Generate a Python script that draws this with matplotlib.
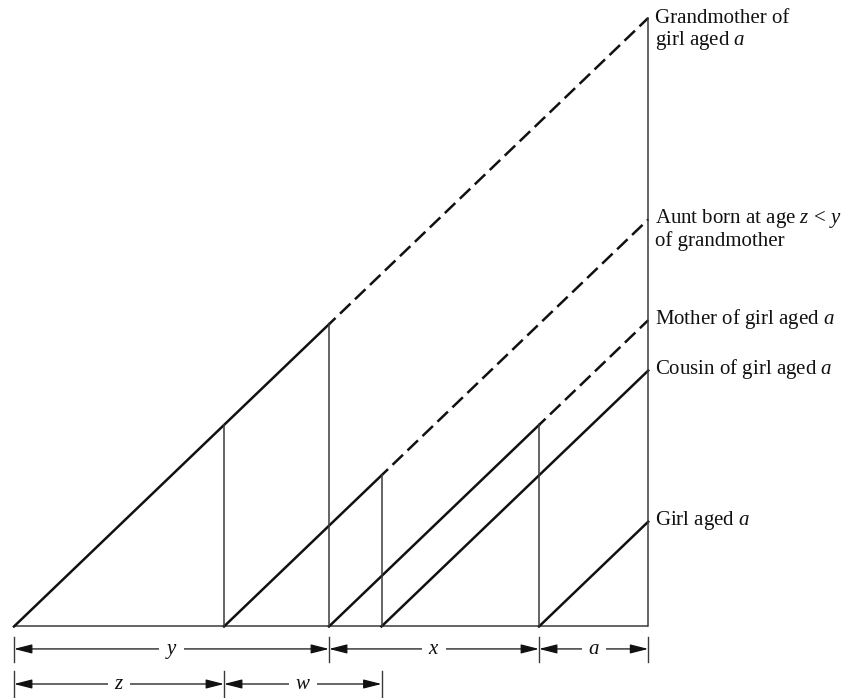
import matplotlib.pyplot as plt

# ages (years)
age_y = 30.0    # grandmother's age when mother was born
age_z = 20.0    # grandmother's age when aunt was born
age_w = 15.0    # aunt's age when cousin was born
age_x = 20.0    # mother's age when girl was born
age_a = 10.4    # girl's present age

T = age_y + age_x + age_a   # present time, counted from grandmother's birth

# people: label, birth time, time after which the line is dashed (None = solid)
names = ['Grandmother of\ngirl aged $\\mathit{a}$',
         'Aunt born at age $\\mathit{z}$ < $\\mathit{y}$\nof grandmother',
         'Mother of girl aged $\\mathit{a}$',
         'Cousin of girl aged $\\mathit{a}$',
         'Girl aged $\\mathit{a}$']
births = [0.0, age_z, age_y, age_z + age_w, age_y + age_x]
dash_from = [age_y, age_z + age_w, age_y + age_x, None, None]

# vertical markers: time, height reached
vert_t = [age_z, age_y, age_z + age_w, age_y + age_x, T]
vert_h = [age_z, age_y, age_w, age_x, T]

# dimension rows below the base line
row1_edges = [0.0, age_y, age_y + age_x, T]
row1_labels = ['y', 'x', 'a']
row2_edges = [0.0, age_z, age_z + age_w]
row2_labels = ['z', 'w']

plt.rcParams['font.family'] = ['Liberation Serif', 'DejaVu Serif']
plt.rcParams['mathtext.fontset'] = 'custom'
plt.rcParams['mathtext.it'] = 'Liberation Serif:italic'
plt.rcParams['mathtext.rm'] = 'Liberation Serif'

fig = plt.figure(figsize=(8.51, 6.98), dpi=100)
ax = fig.add_axes([0, 0, 1, 1])
ax.set_xlim(-1.333, 79.71)
ax.set_ylim(-7.10, 62.18)
ax.axis('off')

ink = '#111111'
thin = '#3a3a3a'
dash_pat = (5.8, 2.5)
line_step = 16.6   # points between label lines

# base line
ax.plot([0, T], [0, 0], color=thin, lw=1.1, solid_capstyle='butt')

# life lines
for name, b, d in zip(names, births, dash_from):
    end_h = T - b
    if d is None:
        ax.plot([b, T], [0, end_h], color=ink, lw=1.8)
    else:
        ax.plot([b, d], [0, d - b], color=ink, lw=1.8)
        ax.plot([d, T], [d - b, end_h], color=ink, lw=1.8,
                linestyle=(2.2, dash_pat))
    n_lines = name.count('\n') + 1
    # baseline alignment uses the last line, so push it down
    ax.annotate(name, xy=(T + 0.6, end_h - 0.35),
                xytext=(0, -line_step * (n_lines - 1)), textcoords='offset points',
                fontsize=15, ha='left', va='baseline', linespacing=1.05, color=ink)

# vertical markers
for t, h in zip(vert_t, vert_h):
    ax.plot([t, t], [0, h], color=thin, lw=1.1)


def dim_row(edges, labels, y0, tick_lo, tick_hi):
    for e in edges:
        ax.plot([e, e], [tick_lo, tick_hi], color=thin, lw=1.0)
    for lo, hi, lab in zip(edges[:-1], edges[1:], labels):
        ax.annotate('', xy=(lo, y0), xytext=(hi, y0),
                    arrowprops=dict(arrowstyle='<|-|>,head_length=1.1,head_width=0.28',
                                    mutation_scale=10, color=ink, lw=0.9,
                                    shrinkA=0, shrinkB=0))
        ax.annotate(f'$\\mathit{{{lab}}}$', xy=((lo + hi) / 2, y0),
                    xytext=(0, -3.3), textcoords='offset points',
                    ha='center', va='baseline', fontsize=15, color=ink,
                    zorder=5,
                    bbox=dict(boxstyle='square,pad=0.3', fc='white', ec='none'))


dim_row(row1_edges, row1_labels, -2.23, -1.04, -3.52)
dim_row(row2_edges, row2_labels, -5.71, -4.42, -7.10)

fig.savefig('out.png', dpi=100)
